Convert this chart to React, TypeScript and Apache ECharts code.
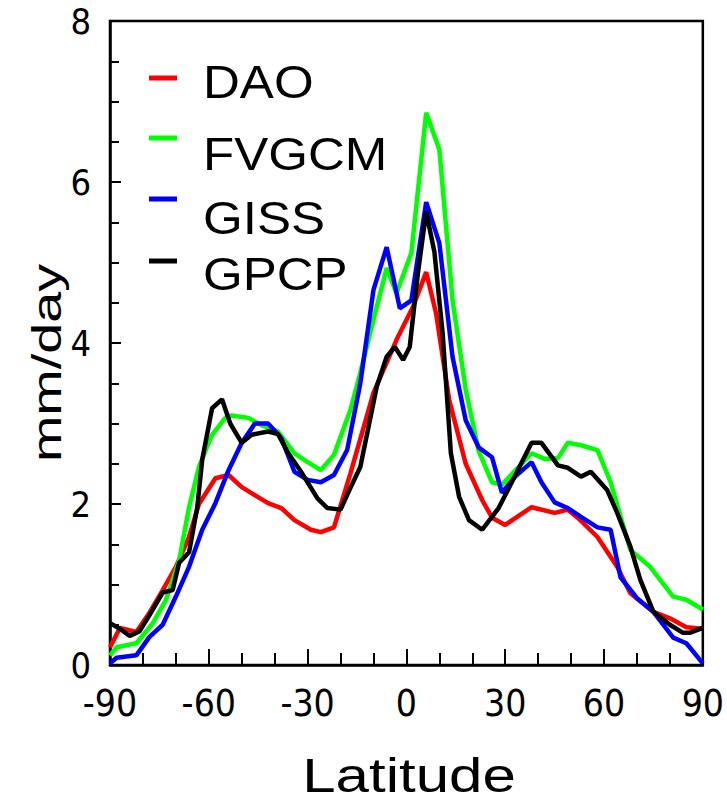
import React, { useEffect, useRef } from "react";
import * as echarts from "echarts";

const seriesNames = ["DAO", "FVGCM", "GISS", "GPCP"];
const seriesColors = ["#ff0000", "#00ff00", "#0000ff", "#000000"];

const xTicks = [-90, -60, -30, 0, 30, 60, 90];
const yTicks = [0, 2, 4, 6, 8];

const daoLat = [-90, -87, -82, -78, -74, -70, -66, -63, -58, -54, -50, -42, -38, -34, -29, -26, -22, -17, -10, -3, 2, 6, 9, 13, 18, 23, 26, 30, 38, 45, 49, 52, 58, 64, 68, 75, 80, 85, 90];
const daoVal = [0.22, 0.46, 0.41, 0.65, 0.93, 1.22, 1.59, 2.0, 2.32, 2.36, 2.21, 2.01, 1.95, 1.8, 1.68, 1.65, 1.71, 2.38, 3.38, 4.04, 4.45, 4.88, 4.37, 3.29, 2.5, 2.05, 1.83, 1.74, 1.96, 1.89, 1.93, 1.83, 1.59, 1.22, 0.89, 0.66, 0.58, 0.47, 0.45];

const fvLat = [-90, -88, -82, -77, -73, -69, -66, -63, -59, -55, -53, -48, -44, -39, -34, -30, -26, -22, -17, -14, -10, -6, -3, 1.5, 6, 10, 14, 18, 22, 26, 29, 38, 42, 46, 49, 53, 58, 62, 68, 74, 81, 85, 90];
const fvVal = [0.12, 0.22, 0.27, 0.52, 0.81, 1.3, 1.96, 2.46, 2.86, 3.07, 3.1, 3.07, 2.98, 2.9, 2.63, 2.52, 2.42, 2.61, 3.17, 3.63, 4.29, 4.93, 4.62, 5.12, 6.86, 6.4, 4.53, 3.42, 2.65, 2.27, 2.24, 2.63, 2.56, 2.57, 2.76, 2.73, 2.67, 2.27, 1.43, 1.22, 0.85, 0.81, 0.69];

const gissLat = [-90, -88, -82, -78, -74, -70, -66, -62, -58, -54, -50, -46, -42, -38, -34, -30, -26, -22, -18, -14, -10, -6, -2, 1.5, 6, 10, 14, 18, 22, 26, 29, 33, 38, 41, 45, 49, 53, 58, 62, 65, 70, 75, 81, 85, 90];
const gissVal = [0.02, 0.09, 0.12, 0.35, 0.5, 0.85, 1.22, 1.68, 2.01, 2.42, 2.76, 3.0, 3.0, 2.82, 2.4, 2.3, 2.27, 2.36, 2.67, 3.5, 4.66, 5.19, 4.43, 4.53, 5.75, 5.24, 3.83, 3.04, 2.7, 2.58, 2.14, 2.34, 2.52, 2.27, 2.02, 1.95, 1.84, 1.71, 1.68, 1.09, 0.83, 0.66, 0.34, 0.27, 0.02];

const gpcpLat = [-90, -87, -84, -81, -78, -74, -71, -69, -66, -63.5, -62, -59, -56, -53.5, -50, -47, -42, -39, -36, -32, -27, -24, -20, -17, -14, -9, -6, -3.5, -1, 1, 3.5, 6, 8.5, 11, 13.5, 16, 19, 23, 28, 32, 38, 41, 46, 49, 53, 56, 61, 64, 68, 71, 75, 80, 84, 86, 90];
const gpcpVal = [0.52, 0.45, 0.36, 0.42, 0.62, 0.9, 0.93, 1.27, 1.4, 1.96, 2.55, 3.19, 3.3, 3.0, 2.76, 2.86, 2.9, 2.87, 2.64, 2.4, 2.07, 1.95, 1.93, 2.2, 2.46, 3.46, 3.83, 3.95, 3.79, 3.95, 4.87, 5.63, 5.13, 4.12, 2.63, 2.09, 1.8, 1.68, 1.95, 2.27, 2.76, 2.76, 2.48, 2.45, 2.34, 2.4, 2.17, 1.89, 1.47, 1.06, 0.66, 0.5, 0.4, 0.4, 0.46];

const seriesLat = [daoLat, fvLat, gissLat, gpcpLat];
const seriesVal = [daoVal, fvVal, gissVal, gpcpVal];

const titleFont = "'Liberation Sans', Arial, Helvetica, sans-serif";
const tickFont = "'Liberation Sans Narrow', 'Arial Narrow', 'DejaVu Sans Condensed', 'Liberation Sans', sans-serif";

// legend layout (pixels)
const legendLineY = [78, 138, 199, 261];
const legendTextY = [82, 154, 218, 274];

export default function App() {
  const ref = useRef<HTMLDivElement>(null);

  useEffect(() => {
    if (!ref.current) return;
    const chart = echarts.init(ref.current, undefined, { renderer: "svg" });

    const graphic: any[] = [];
    seriesNames.forEach((name, i) => {
      graphic.push({
        type: "line",
        shape: { x1: 149, y1: legendLineY[i], x2: 177, y2: legendLineY[i] },
        style: { stroke: seriesColors[i], lineWidth: 5 },
      });
      graphic.push({
        type: "text",
        x: 203,
        y: legendTextY[i],
        scaleX: 1.11,
        style: {
          text: name,
          fontSize: 46,
          fontFamily: titleFont,
          fill: "#000",
          align: "left",
          verticalAlign: "middle",
          textAlign: "left",
          textVerticalAlign: "middle",
        },
      });
    });
    graphic.push({
      type: "text",
      x: 409,
      y: 776,
      scaleX: 1.25,
      style: {
        text: "Latitude",
        fontSize: 48,
        fontFamily: titleFont,
        fill: "#000",
        align: "center",
        verticalAlign: "middle",
        textAlign: "center",
        textVerticalAlign: "middle",
      },
    });
    graphic.push({
      type: "text",
      x: 47,
      y: 363,
      rotation: Math.PI / 2,
      scaleX: 1.36,
      style: {
        text: "mm/day",
        fontSize: 41,
        fontFamily: titleFont,
        fill: "#000",
        align: "center",
        verticalAlign: "middle",
        textAlign: "center",
        textVerticalAlign: "middle",
      },
    });

    const option: any = {
      animation: false,
      backgroundColor: "#ffffff",
      grid: {
        left: 110,
        right: 23,
        top: 21,
        bottom: 140,
        show: true,
        borderColor: "#000",
        borderWidth: 2.5,
        backgroundColor: "transparent",
      },
      legend: { show: false },
      xAxis: {
        type: "value",
        min: xTicks[0],
        max: xTicks[xTicks.length - 1],
        interval: xTicks[1] - xTicks[0],
        axisLine: { onZero: false, lineStyle: { color: "#000", width: 2.5 } },
        axisTick: { inside: true, length: 16, lineStyle: { color: "#000", width: 2 } },
        minorTick: { show: true, splitNumber: 3, length: 12, lineStyle: { color: "#000", width: 2 } },
        splitLine: { show: false },
        minorSplitLine: { show: false },
        axisLabel: { margin: 20, fontSize: 37, fontFamily: tickFont, color: "#000" },
      },
      yAxis: {
        type: "value",
        min: yTicks[0],
        max: yTicks[yTicks.length - 1],
        interval: yTicks[1] - yTicks[0],
        axisLine: { onZero: false, lineStyle: { color: "#000", width: 2.5 } },
        axisTick: { inside: true, length: 11, lineStyle: { color: "#000", width: 2 } },
        minorTick: { show: true, splitNumber: 4, length: 9, lineStyle: { color: "#000", width: 2 } },
        splitLine: { show: false },
        minorSplitLine: { show: false },
        axisLabel: { margin: 19, fontSize: 36, fontFamily: tickFont, color: "#000" },
      },
      series: seriesNames.map((name, i) => ({
        name,
        type: "line",
        data: seriesLat[i].map((lat, j) => [lat, seriesVal[i][j]]),
        showSymbol: false,
        symbol: "none",
        lineStyle: { color: seriesColors[i], width: 4.5 },
        itemStyle: { color: seriesColors[i] },
        z: 2 + i,
      })),
      graphic,
    };

    chart.setOption(option);
    return () => {
      chart.dispose();
    };
  }, []);

  return (
    <div
      ref={ref}
      style={{ position: "fixed", left: 0, top: 0, width: 727, height: 805, background: "#fff" }}
    />
  );
}
